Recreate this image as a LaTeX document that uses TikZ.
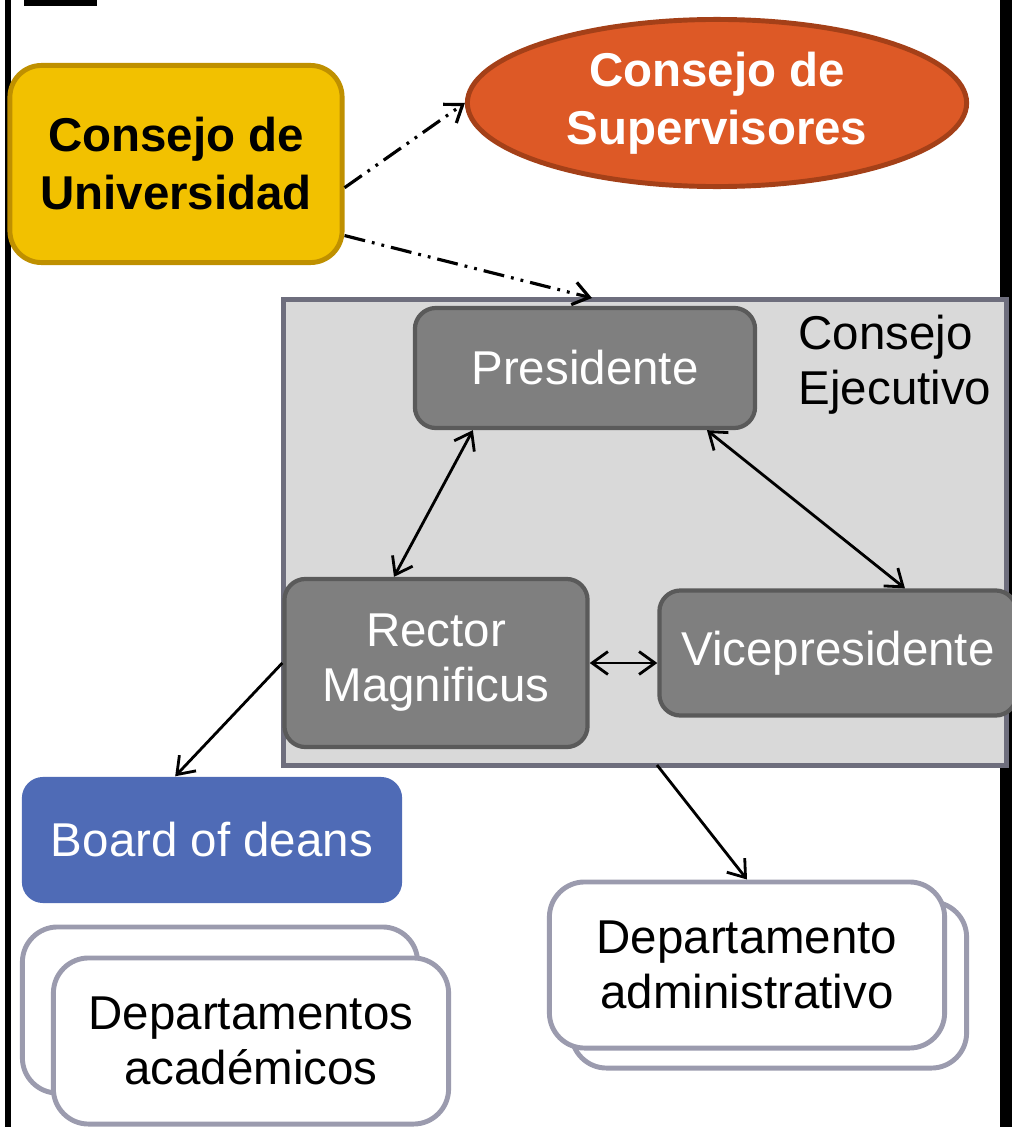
\documentclass[tikz,border=0pt]{standalone}
\usepackage{fontspec}
\setmainfont{Liberation Sans}
\usetikzlibrary{shapes.geometric,arrows.meta}

\definecolor{univfill}{RGB}{242,193,0}
\definecolor{univline}{RGB}{191,144,0}
\definecolor{supfill}{RGB}{221,89,38}
\definecolor{supline}{RGB}{164,64,24}
\definecolor{ejecfill}{RGB}{217,217,217}
\definecolor{ejecline}{RGB}{110,110,125}
\definecolor{darkfill}{RGB}{127,127,127}
\definecolor{darkline}{RGB}{90,90,90}
\definecolor{boardfill}{RGB}{79,107,182}
\definecolor{deptline}{RGB}{155,155,174}

\begin{document}
\begin{tikzpicture}[x=0.01cm,y=-0.01cm,
	font=\fontsize{13.5}{15.6}\selectfont,
	every node/.style={align=center,inner sep=0pt},
	>={Straight Barb[length=4.5pt,width=6.5pt]},
	darkbox/.style={draw=darkline,fill=darkfill,line width=1.2pt,rounded corners=6pt,text=white},
	deptbox/.style={draw=deptline,fill=white,line width=1.4pt,rounded corners=10pt,minimum width=3.95cm,minimum height=1.66cm},
	supervise/.style={->,line width=0.9pt,dash pattern=on 6pt off 2pt on 0.8pt off 2pt on 0.8pt off 2pt},
	link/.style={<->,line width=0.8pt},
	]
	\useasboundingbox (0,0) rectangle (1012,1127);
	
	%page edges
	\fill (5,0) rectangle (11,1127);
	\fill (1000,0) rectangle (1012,1127);
	\fill (24,0) rectangle (97,6);
	
	%top level
	\node[draw=univline,fill=univfill,line width=1.4pt,rounded corners=9pt,
		minimum width=3.32cm,minimum height=1.97cm,font=\fontsize{13.5}{16.5}\selectfont\bfseries]
		(univ) at (176,164) {Consejo de\\Universidad};
	\node[ellipse,draw=supline,fill=supfill,line width=1.4pt,text=white,
		minimum width=4.99cm,minimum height=1.67cm,font=\fontsize{13.5}{16.5}\selectfont\bfseries]
		(sup) at (717,103) {Consejo de\\Supervisores};
	
	%consejo ejecutivo
	\node[draw=ejecline,fill=ejecfill,line width=1.4pt,minimum width=7.23cm,minimum height=4.65cm]
		(ejec) at (645,532.5) {};
	\node[anchor=west,align=left] (ejeclabel) at (798,365) {Consejo\\Ejecutivo};
	\coordinate (ejectop) at (592,298);
	\coordinate (ejecout) at (657,765);
	
	\node[darkbox,minimum width=3.40cm,minimum height=1.20cm] (pres) at (585,368) {Presidente};
	\node[darkbox,minimum width=3.03cm,minimum height=1.68cm] (rect) at (436,663) {Rector\\Magnificus};
	\node[darkbox,minimum width=3.57cm,minimum height=1.25cm] (vice) at (838,653) {Vicepresidente};
	
	%lower level
	\node[fill=boardfill,rounded corners=6pt,text=white,minimum width=3.80cm,minimum height=1.26cm]
		(board) at (212,840) {Board of deans};
	\node[deptbox] (acadback) at (220,1010) {};
	\node[deptbox] (acad) at (251,1041) {Departamentos\\académicos};
	\node[deptbox] (adminback) at (769,985) {};
	\node[deptbox] (admin) at (747,965) {Departamento\\administrativo};
	
	%connectors
	\draw[supervise] (univ.-8) -- (sup.west);
	\draw[supervise] (univ.-23) -- (ejectop);
	\draw[link] (pres.209) -- (rect.116);
	\draw[link] (pres.-27) -- (vice.44);
	\draw[link] (rect.east) -- (rect.east -| vice.west);
	\draw[->,line width=0.8pt] (rect.west) -- (board.120);
	\draw[->,line width=0.8pt] (ejecout) -- (admin.north);
\end{tikzpicture}
\end{document}
